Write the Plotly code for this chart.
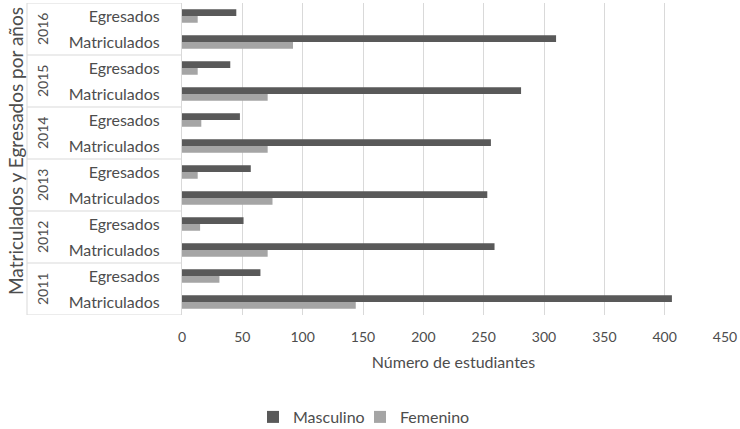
import plotly.graph_objects as go

years = ["2016", "2015", "2014", "2013", "2012", "2011"]
rows = ["Egresados", "Matriculados"]
masculino = [45, 310, 40, 281, 48, 256, 57, 253, 51, 259, 65, 406]
femenino = [13, 92, 13, 71, 16, 71, 13, 75, 15, 71, 31, 144]
x_ticks = [0, 50, 100, 150, 200, 250, 300, 350, 400, 450]

labels = [r for y in years for r in rows]
pos = list(range(len(labels)))

FONT = "Lato"
TXT = "#4d4d4d"
GRID = "#d9d9d9"

fig = go.Figure()
fig.add_trace(go.Bar(y=pos, x=masculino, orientation="h", name="Masculino",
                     marker=dict(color="#595959", line=dict(width=0)), legend="legend"))
fig.add_trace(go.Bar(y=pos, x=femenino, orientation="h", name="Femenino",
                     marker=dict(color="#a5a5a5", line=dict(width=0)), legend="legend2"))

L, R, T, B = 182, 15, 3, 114
W, H = 740, 429
pw = W - L - R
ph = H - T - B

def px_x(p):
    return (p - L) / pw

def px_y(p):
    return (H - B - p) / ph

shapes = []
box_left = px_x(27)
for k in range(len(years) + 1):
    yv = 2 * k - 0.5
    shapes.append(dict(type="line", xref="paper", yref="y", x0=box_left, x1=0,
                       y0=yv, y1=yv, line=dict(color=GRID, width=1)))
shapes.append(dict(type="line", xref="paper", yref="y", x0=box_left, x1=box_left,
                   y0=-0.5, y1=2 * len(years) - 0.5, line=dict(color=GRID, width=1)))

annotations = []
for k, yr in enumerate(years):
    annotations.append(dict(text=yr, xref="paper", yref="y", x=px_x(42), y=2 * k + 0.5,
                            xanchor="center", yanchor="middle",
                            showarrow=False, textangle=-90,
                            font=dict(family=FONT, size=14, color=TXT)))
annotations.append(dict(text="Matriculados y Egresados por años", xref="paper", yref="paper",
                        x=px_x(15), y=px_y(151), xanchor="center", yanchor="middle",
                        showarrow=False, textangle=-90,
                        font=dict(family=FONT, size=19, color=TXT)))

leg_common = dict(orientation="h", xanchor="left", y=px_y(417), yanchor="middle",
                  font=dict(family=FONT, size=16, color=TXT), itemwidth=30,
                  bgcolor="rgba(0,0,0,0)")

fig.update_layout(
    width=W, height=H,
    margin=dict(l=L, r=R, t=T, b=B, autoexpand=False),
    paper_bgcolor="white", plot_bgcolor="white",
    barmode="group", bargap=0.48, bargroupgap=0,
    font=dict(family=FONT, color=TXT),
    showlegend=True,
    legend=dict(x=px_x(253), **leg_common),
    legend2=dict(x=px_x(360), **leg_common),
    xaxis=dict(range=[0, 450], tickvals=x_ticks, showgrid=True, gridcolor=GRID, gridwidth=1,
               zeroline=False, showline=False, ticks="", ticklabelstandoff=12,
               automargin=False,
               tickfont=dict(family=FONT, size=14, color=TXT),
               title=dict(text="Número de estudiantes", standoff=12,
                          font=dict(family=FONT, size=16, color=TXT))),
    yaxis=dict(range=[2 * len(years) - 0.5, -0.5], tickvals=pos, ticktext=labels,
               showgrid=False, zeroline=False, showline=True, linecolor=GRID, linewidth=1,
               ticks="", ticklabelstandoff=18, automargin=False,
               tickfont=dict(family=FONT, size=16, color=TXT)),
    shapes=shapes,
    annotations=annotations,
)

fig.write_html("out.html", config={"displayModeBar": False},
               post_script="document.body.style.margin='0';")
